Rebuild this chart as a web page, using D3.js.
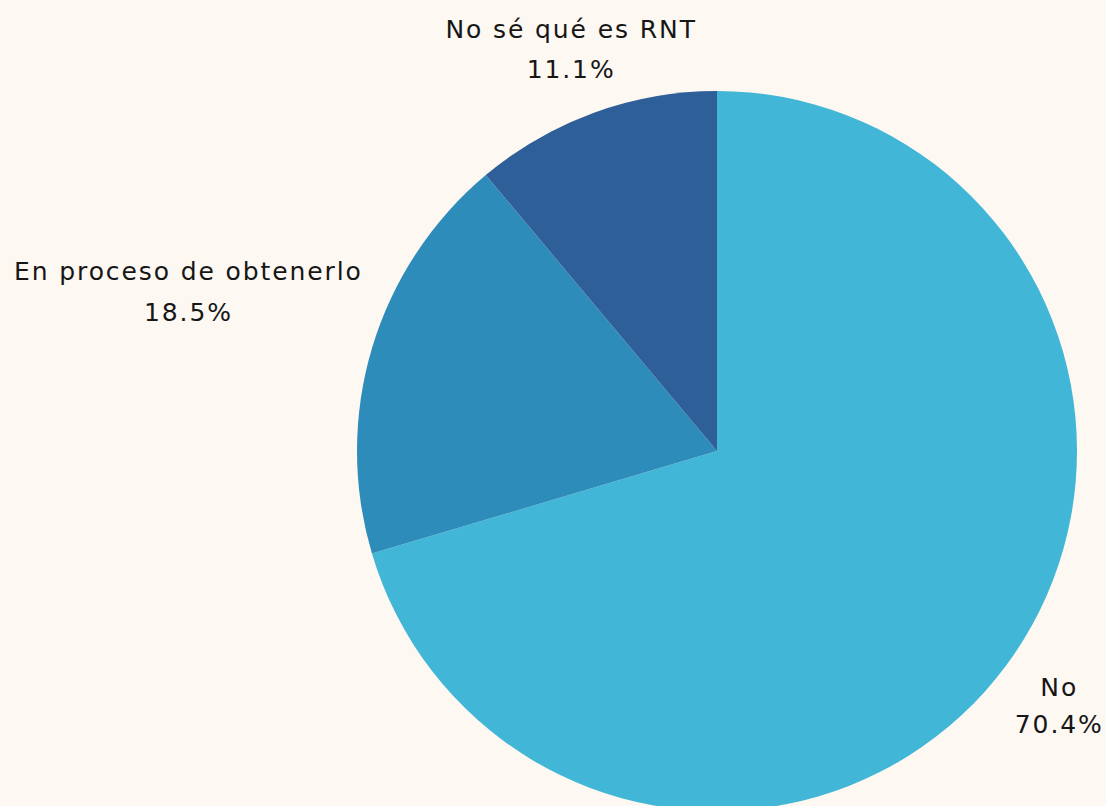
<!DOCTYPE html>
<html><head><meta charset="utf-8">
<script src="https://cdn.jsdelivr.net/npm/d3@7"></script>
<style>html,body{margin:0;padding:0;background:#fdf8f2;}svg{display:block;}</style>
</head><body>
<svg id="chart" width="1106" height="806"></svg>
<script>
const categories = ["No", "En proceso de obtenerlo", "No sé qué es RNT"];
const values = [70.4, 18.5, 11.1];
const colors = ["#42b6d6", "#2e8cba", "#2f5f98"];

const W = 1106, H = 806, cx = 717, cy = 451, R = 360;
const svg = d3.select("#chart");
svg.append("rect").attr("width", W).attr("height", H).attr("fill", "#fdf8f2");
const g = svg.append("g").attr("transform", `translate(${cx},${cy})`);

const pie = d3.pie().sort(null).value(d => d)(values);
const arc = d3.arc().innerRadius(0).outerRadius(R);

g.selectAll("path").data(pie).enter().append("path")
  .attr("d", arc)
  .attr("fill", (d, i) => colors[i]);

// label layout: radial distance, pushed outward for wide labels
const labelR = [427, 552, 427];
const lineGap = [37, 41, 40];
const fmt = v => v.toFixed(1) + "%";
pie.forEach((d, i) => {
  const a = (d.startAngle + d.endAngle) / 2;
  const x = cx + labelR[i] * Math.sin(a);
  const y = cy - labelR[i] * Math.cos(a);
  const t = svg.append("text")
    .attr("x", x).attr("y", y)
    .attr("text-anchor", "middle")
    .attr("font-family", "DejaVu Sans, sans-serif")
    .attr("font-size", 25)
    .attr("letter-spacing", 1.9)
    .attr("fill", "#161616");
  t.append("tspan").attr("x", x).attr("dy", -lineGap[i] / 2 + 8).text(categories[i]);
  t.append("tspan").attr("x", x).attr("dy", lineGap[i]).text(fmt(values[i]));
});
</script>
</body></html>
